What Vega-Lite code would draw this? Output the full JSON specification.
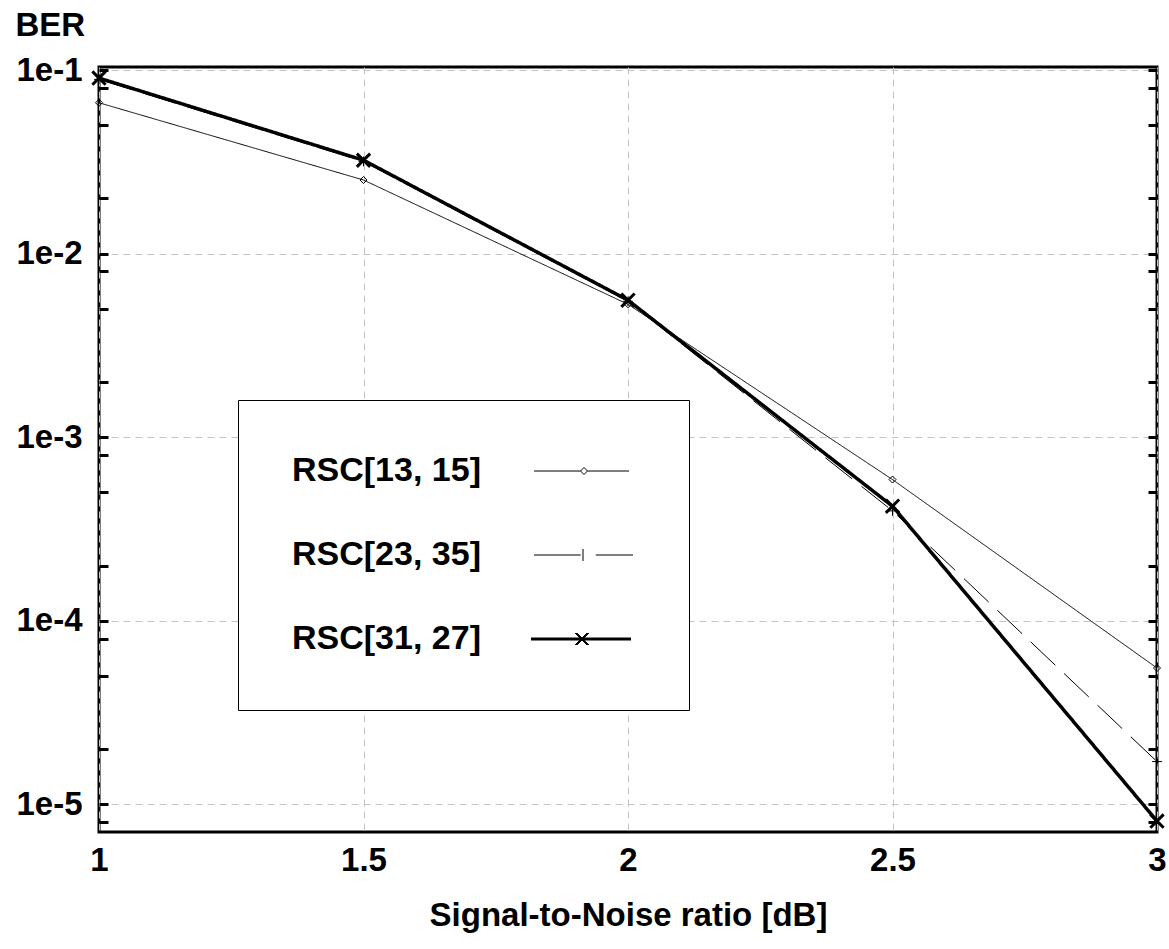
{
  "$schema": "https://vega.github.io/schema/vega-lite/v6.json",
  "autosize": {"type": "none"},
  "padding": {"left": 99, "top": 67, "right": 12, "bottom": 117},
  "width": 1058,
  "height": 765,
  "background": "white",
  "config": {
    "font": "Liberation Sans",
    "view": {"stroke": "black", "strokeWidth": 3},
    "axis": {"labelFont": "Liberation Sans", "labelFontWeight": "bold", "labelFontSize": 33, "labelColor": "black", "titleFont": "Liberation Sans", "titleFontWeight": "bold", "titleFontSize": 33, "titleColor": "black"}
  },
  "data": {"values": [
    {"snr": 1, "ber": 0.0664, "series": "RSC[13, 15]"},
    {"snr": 1.5, "ber": 0.0252, "series": "RSC[13, 15]"},
    {"snr": 2, "ber": 0.0053, "series": "RSC[13, 15]"},
    {"snr": 2.5, "ber": 0.000588, "series": "RSC[13, 15]"},
    {"snr": 3, "ber": 0.0000553, "series": "RSC[13, 15]"},
    {"snr": 1, "ber": 0.089, "series": "RSC[23, 35]"},
    {"snr": 1.5, "ber": 0.0318, "series": "RSC[23, 35]"},
    {"snr": 2, "ber": 0.0055, "series": "RSC[23, 35]"},
    {"snr": 2.5, "ber": 0.000397, "series": "RSC[23, 35]"},
    {"snr": 3, "ber": 0.0000171, "series": "RSC[23, 35]"},
    {"snr": 1, "ber": 0.0905, "series": "RSC[31, 27]"},
    {"snr": 1.5, "ber": 0.0323, "series": "RSC[31, 27]"},
    {"snr": 2, "ber": 0.00558, "series": "RSC[31, 27]"},
    {"snr": 2.5, "ber": 0.000421, "series": "RSC[31, 27]"},
    {"snr": 3, "ber": 0.00000811, "series": "RSC[31, 27]"}
  ]},
  "layer": [
    {
      "mark": {"type": "line", "color": "black", "clip": false},
      "encoding": {
        "x": {"field": "snr", "type": "quantitative", "scale": {"domain": [1, 3], "nice": false, "zero": false},
          "axis": {"values": [1, 1.5, 2, 2.5, 3], "labelExpr": "'' + datum.value", "labelFlush": false, "labelOverlap": false, "ticks": false, "domain": false, "grid": true, "gridColor": "#c4c4c4", "gridDash": [7, 5], "gridWidth": 1, "labelPadding": 12, "title": "Signal-to-Noise ratio [dB]", "titlePadding": 22}},
        "y": {"field": "ber", "type": "quantitative", "scale": {"type": "log", "domain": [0.00000707, 0.104], "nice": false},
          "axis": {"orient": "left", "values": [0.000008, 0.00001, 0.00002, 0.00005, 0.00008, 0.0001, 0.0002, 0.0005, 0.0008, 0.001, 0.002, 0.005, 0.008, 0.01, 0.02, 0.05, 0.08, 0.1],
            "labelExpr": "abs(log(datum.value)/LN10 - round(log(datum.value)/LN10)) < 0.01 ? '1e' + round(log(datum.value)/LN10) : ''",
            "labelOverlap": false, "labelFlush": false, "labelBaseline": "middle",
            "grid": true, "gridColor": "#c4c4c4", "gridDash": [7, 5], "gridWidth": 1,
            "gridOpacity": {"condition": {"test": "abs(log(datum.value)/LN10 - round(log(datum.value)/LN10)) < 0.01", "value": 1}, "value": 0},
            "domain": false, "ticks": true, "tickSize": -9, "tickWidth": 3, "tickColor": "black", "labelPadding": 26,
            "title": "BER", "titleAngle": 0, "titleAlign": "left", "titleBaseline": "middle", "titleX": -84, "titleY": -42}},
        "detail": {"field": "series"},
        "strokeWidth": {"condition": {"test": "datum.series === 'RSC[31, 27]'", "value": 3.5}, "value": 1},
        "strokeDash": {"condition": {"test": "datum.series === 'RSC[23, 35]'", "value": [34, 12]}, "value": [1, 0]}
      }
    },
    {
      "mark": {"type": "point", "filled": false, "color": "black", "size": 196, "opacity": 1},
      "encoding": {
        "x": {"field": "snr", "type": "quantitative"},
        "y": {"field": "ber", "type": "quantitative",
          "axis": {"orient": "right", "values": [0.000008, 0.00001, 0.00002, 0.00005, 0.00008, 0.0001, 0.0002, 0.0005, 0.0008, 0.001, 0.002, 0.005, 0.008, 0.01, 0.02, 0.05, 0.08, 0.1],
            "labels": false, "grid": false, "domain": false, "ticks": true, "tickSize": -9, "tickWidth": 3, "tickColor": "black", "title": null}},
        "strokeWidth": {"condition": {"test": "datum.series === 'RSC[31, 27]'", "value": 3}, "value": 1},
        "shape": {"condition": [
          {"test": "datum.series === 'RSC[13, 15]'", "value": "M0,-0.5L0.5,0L0,0.5L-0.5,0Z"},
          {"test": "datum.series === 'RSC[23, 35]'", "value": "M-0.7,0L0.7,0M0,-0.7L0,0.7"}
        ], "value": "M-0.95,-0.95L0.95,0.95M0.95,-0.95L-0.95,0.95"}
      }
    },
    {
      "mark": {"type": "point", "filled": false, "color": "black", "size": 0, "opacity": 0},
      "encoding": {
        "x": {"field": "snr", "type": "quantitative"},
        "y": {"field": "ber", "type": "quantitative", "axis": null},
        "shape": {"field": "series", "type": "nominal",
          "scale": {"domain": ["RSC[13, 15]", "RSC[23, 35]", "RSC[31, 27]"],
            "range": [
              "M-3.06,0L-0.156,0M0.281,0L2.875,0M0.0625,-0.219L0.281,0L0.0625,0.219L-0.156,0Z",
              "M-3.06,0L-0.144,0M0,-0.375L0,0.375M0.794,0L3.125,0",
              "M-3.25,-0.0625L3,-0.0625M-3.25,-0.031L3,-0.031M-3.25,0L3,0M-3.25,0.031L3,0.031M-3.25,0.0625L3,0.0625M-0.4375,-0.375L0.3125,0.375M0.3125,-0.375L-0.4375,0.375M-0.4075,-0.375L0.3425,0.375M0.3425,-0.375L-0.4075,0.375M-0.4675,-0.375L0.2825,0.375M0.2825,-0.375L-0.4675,0.375M-0.3775,-0.375L0.3725,0.375M0.3725,-0.375L-0.3775,0.375M-0.4975,-0.375L0.2525,0.375M0.2525,-0.375L-0.4975,0.375"
            ]},
          "legend": {
            "orient": "none", "legendX": 139, "legendY": 333, "title": null, "direction": "vertical",
            "padding": 54, "fillColor": "white", "strokeColor": "black",
            "labelFont": "Liberation Sans", "labelFontSize": 34, "labelFontWeight": "bold", "labelColor": "black", "labelLimit": 0,
            "labelOffset": -308, "symbolOffset": 274, "symbolSize": 1024, "symbolStrokeWidth": 1, "symbolOpacity": 1,
            "symbolStrokeColor": "black", "symbolFillColor": "transparent", "rowPadding": 50
          }}
      }
    }
  ],
  "resolve": {"axis": {"y": "independent"}}
}
